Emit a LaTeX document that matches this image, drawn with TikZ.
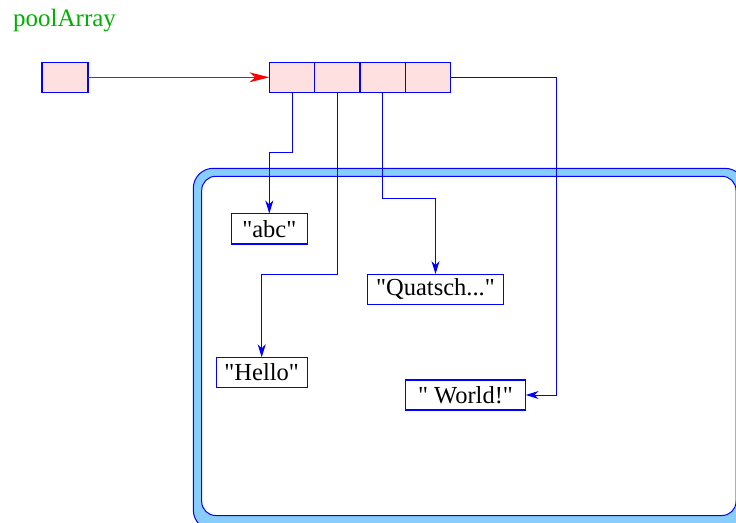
\documentclass[tikz,border=0pt]{standalone}
\usepackage{fontspec}
\setmainfont{Liberation Serif}[Ligatures=TeXOff]
\usetikzlibrary{arrows.meta}
\definecolor{cellpink}{RGB}{255,224,224}
\definecolor{linkblue}{RGB}{0,0,255}
\definecolor{bandblue}{RGB}{135,206,255}
\definecolor{titlegreen}{RGB}{0,176,0}
\newcommand{\dq}{\symbol{34}}
\begin{document}
\begin{tikzpicture}[x=1pt,y=-1pt,
  cell/.style={draw=linkblue,fill=cellpink,line width=1.2pt,minimum width=45.3pt,minimum height=30pt,inner sep=0pt,outer sep=0pt},
  strbox/.style={draw=linkblue,fill=white,line width=1.1pt,inner sep=0pt,outer sep=0pt,font=\fontsize{24.5}{28}\selectfont},
  link/.style={draw=linkblue,line width=1pt,-{Stealth[length=13pt,width=8pt,inset=4pt]}},
  redlink/.style={draw=red,line width=1pt,-{Stealth[length=20pt,width=10pt,inset=6pt,red]}}]
\useasboundingbox (0,0) rectangle (736,522);
\begin{scope}
\clip (0,0) rectangle (736,522);
% frame
\draw[linkblue,fill=bandblue,line width=1pt,rounded corners=20pt] (193.3,168.3) rectangle (745,530);
\draw[linkblue,fill=white,line width=1pt,rounded corners=14pt] (201.7,176.3) rectangle (736,515.5);
\end{scope}
\node[anchor=base west,text=titlegreen,font=\fontsize{25}{29}\selectfont,inner sep=0pt] (title) at (13,27) {poolArray};
\node[cell,minimum width=46pt] (p) at (65,77.3) {};
\node[cell] (c1) at (292,77.3) {};
\node[cell] (c2) at (337.3,77.3) {};
\node[cell] (c3) at (382.6,77.3) {};
\node[cell] (c4) at (427.9,77.3) {};
\node[strbox,minimum width=76.5pt,minimum height=30.5pt] (abc) at (269.3,228.7) {\dq abc\dq};
\node[strbox,minimum width=91.3pt,minimum height=30pt] (hello) at (261.7,372.3) {\dq Hello\dq};
\node[strbox,minimum width=136.4pt,minimum height=30.3pt] (quatsch) at (435.5,289.2) {\dq Quatsch...\dq};
\node[strbox,minimum width=120.4pt,minimum height=30pt] (world) at (465.5,395) {\dq{} World!\dq};
\coordinate (k1) at (292,152.7);
\coordinate (k2) at (337.3,274);
\coordinate (k3) at (382.6,198.3);
\coordinate (k4) at (556,77.3);
\draw[redlink] (p.east) -- (c1.west);
\draw[link] (c1.south) -- (k1) -| (abc.north);
\draw[link] (c2.south) -- (k2) -| (hello.north);
\draw[link] (c3.south) -- (k3) -| (quatsch.north);
\draw[link] (c4.east) -- (k4) |- (world.east);
\end{tikzpicture}
\end{document}
